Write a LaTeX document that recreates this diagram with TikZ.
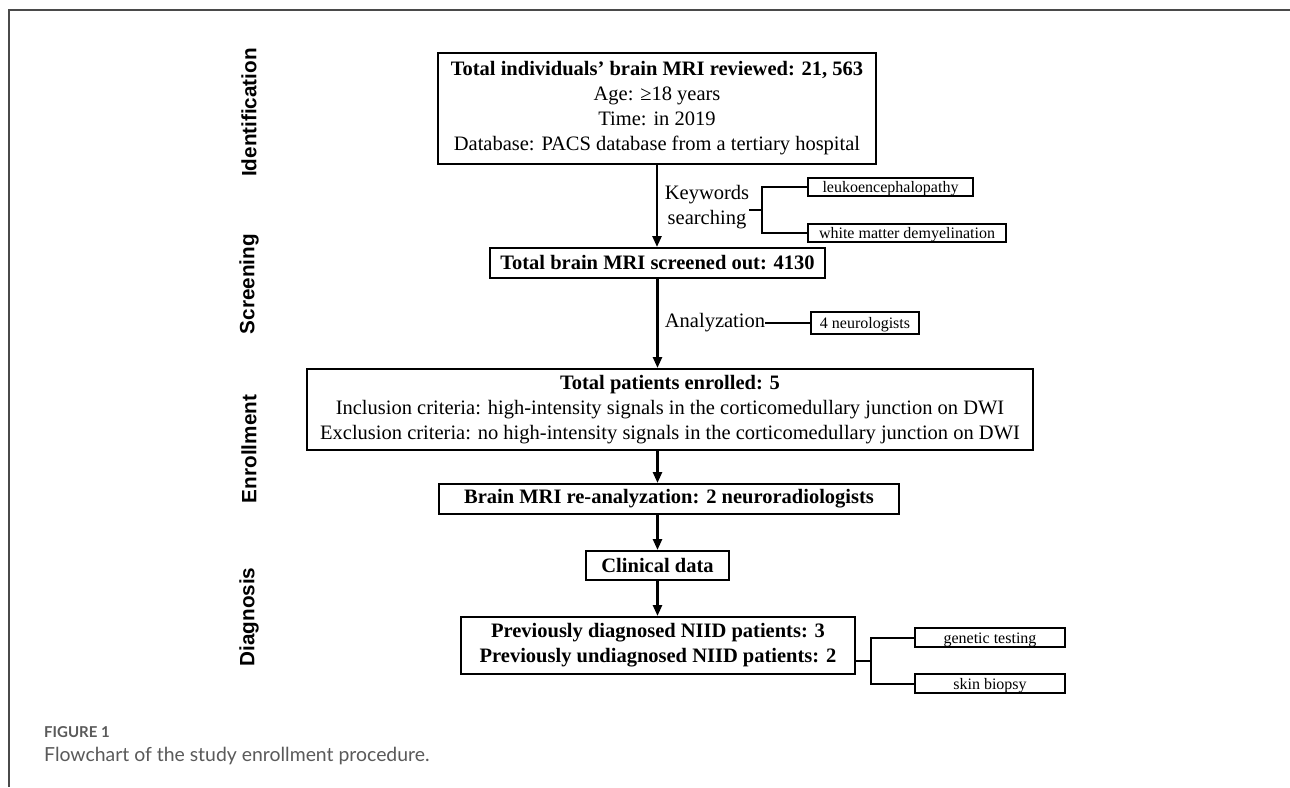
\documentclass[tikz,border=0pt]{standalone}
\usepackage{fontspec}
\setmainfont{Liberation Serif}
\newfontfamily\stagefont{Liberation Sans}
\newfontfamily\capfont{Lato}
\usetikzlibrary{arrows.meta,calc}
\definecolor{framegray}{HTML}{4A4A4A}
\definecolor{capgray}{HTML}{5A5A5A}
\tikzset{
  mainbox/.style={draw, line width=2pt, inner sep=0pt, align=center, font=\fontsize{20.5}{25}\selectfont},
  smallbox/.style={draw, line width=1.8pt, inner sep=0pt, text height=14pt, text depth=2.5pt, font=\fontsize{16}{18}\selectfont},
  plaintext/.style={inner sep=0pt, align=center, font=\fontsize{20.5}{25}\selectfont},
  stagelabel/.style={rotate=90, inner sep=0pt, font=\stagefont\bfseries\fontsize{20.7}{24}\selectfont},
  flow/.style={line width=2.5pt, -{Triangle[length=11pt,width=9pt]}},
  link/.style={line width=2pt},
}
\begin{document}
\begin{tikzpicture}[x=1pt,y=1pt]
\useasboundingbox (0,0) rectangle (1290,-787);
\fill[white] (0,0) rectangle (1290,-787);
\draw[framegray, line width=2pt] (1290,-10) -- (9,-10) -- (9,-787);

% stage labels
\node[stagelabel] (sId) at (249,-112.5) {Identification};
\node[stagelabel] (sSc) at (249,-284) {Screening};
\node[stagelabel] (sEn) at (249,-449) {Enrollment};
\node[stagelabel] (sDi) at (249,-617) {Diagnosis};

% main boxes
\node[mainbox, minimum width=438pt, minimum height=111pt] (b1) at (657,-108.5)
  {\textbf{Total individuals’ brain MRI reviewed: 21, 563}\\Age: ≥18 years\\Time: in 2019\\Database: PACS database from a tertiary hospital};
\node[mainbox, minimum width=335pt, minimum height=30pt] (b2) at (657.5,-263)
  {\textbf{Total brain MRI screened out: 4130}};
\node[mainbox, minimum width=726pt, minimum height=81pt] (b3) at (670,-409.5)
  {\textbf{Total patients enrolled: 5}\\Inclusion criteria: high-intensity signals in the corticomedullary junction on DWI\\Exclusion criteria: no high-intensity signals in the corticomedullary junction on DWI};
\node[mainbox, minimum width=460pt, minimum height=30pt] (b4) at (669,-499)
  {\textbf{Brain MRI re-analyzation: 2 neuroradiologists}};
\node[mainbox, minimum width=143pt, minimum height=29pt] (b5) at (657.5,-565.5)
  {\textbf{Clinical data}};
\node[mainbox, minimum width=394pt, minimum height=57pt] (b6) at (658,-645.5)
  {\textbf{Previously diagnosed NIID patients: 3}\\\textbf{Previously undiagnosed NIID patients: 2}};

% side boxes
\node[smallbox, minimum width=165pt, minimum height=18pt] (leuko) at (890.5,-187) {leukoencephalopathy};
\node[smallbox, minimum width=198pt, minimum height=18pt] (white) at (907,-233) {white matter demyelination};
\node[smallbox, minimum width=108pt, minimum height=22pt] (neuro) at (865,-323) {4 neurologists};
\node[smallbox, minimum width=150pt, minimum height=19pt] (gen) at (990,-637.5) {genetic testing};
\node[smallbox, minimum width=150pt, minimum height=19pt] (skin) at (990,-683.5) {skin biopsy};

% labels on the main line
\node[plaintext] (kw) at (707,-207) {Keywords\\searching};
\node[plaintext] (an) at (715,-323) {Analyzation};

% main arrows
\draw[flow] (b1.south) -- (b1.south |- b2.north);
\draw[flow] (b2.south) -- (b2.south |- b3.north);
\draw[flow] (b3.south -| b5) -- (b4.north -| b5);
\draw[flow] (b4.south -| b5) -- (b5.north);
\draw[flow] (b5.south) -- (b6.north -| b5);

% keyword bracket
\coordinate (kmid) at ($(leuko.west)!0.5!(white.west)$);
\draw[link] (kmid -| kw.east) -- ++(13,0) coordinate (kj);
\draw[link] (leuko.west) -| (kj) |- (white.west);

% analyzation link
\draw[link] (neuro.west -| an.east) -- (neuro.west);

% diagnosis bracket
\coordinate (gmid) at ($(gen.west)!0.5!(skin.west)$);
\draw[link] (gmid -| b6.east) -- ++(15,0) coordinate (gj);
\draw[link] (gen.west) -| (gj) |- (skin.west);

% caption
\node[anchor=base west, inner sep=0pt, text=capgray, font=\capfont\bfseries\fontsize{15}{18}\selectfont] (fig) at (44,-737) {FIGURE 1};
\node[anchor=base west, inner sep=0pt, text=capgray, font=\capfont\fontsize{19.4}{23}\selectfont] (cap) at (44,-761) {Flowchart of the study enrollment procedure.};
\end{tikzpicture}
\end{document}
